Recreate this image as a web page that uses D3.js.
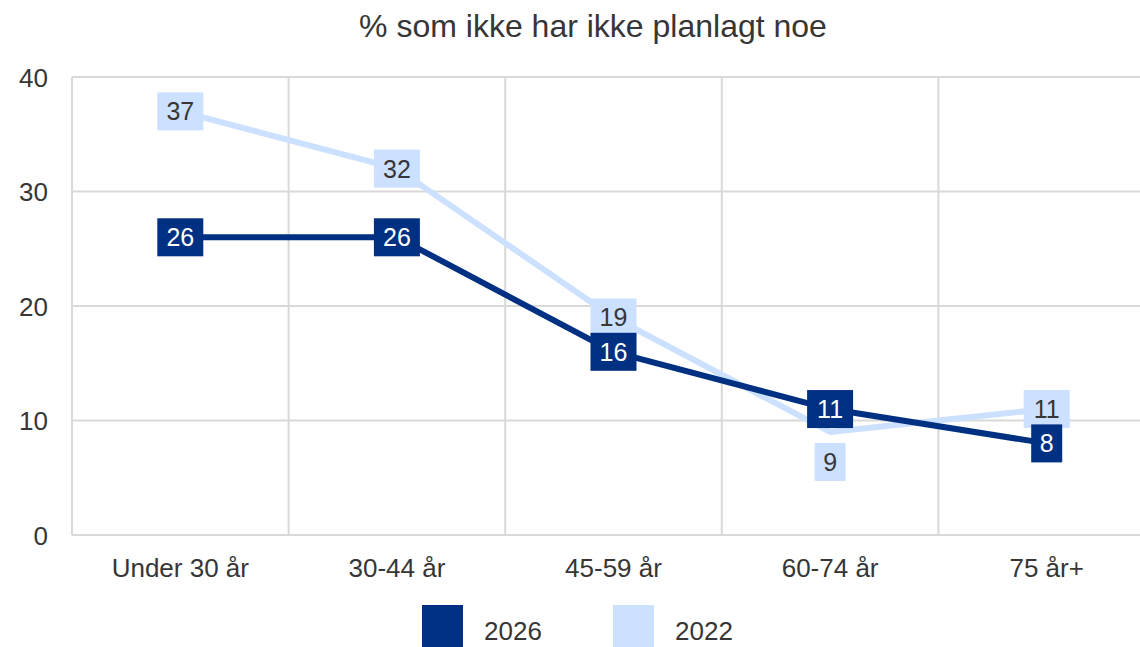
<!DOCTYPE html>
<html><head><meta charset="utf-8">
<script src="https://cdn.jsdelivr.net/npm/d3@7"></script>
<style>body{margin:0;background:#fff;font-family:Arial,"Liberation Sans",sans-serif;}</style>
</head><body>
<svg id="c" width="1140" height="647"></svg>
<script>
const title = "% som ikke har ikke planlagt noe";
const categories = ["Under 30 år","30-44 år","45-59 år","60-74 år","75 år+"];
const values2026 = [26,26,16,11,8];
const values2022 = [37,32,19,9,11];
const seriesNames = ["2026","2022"];
const yTicks = [0,10,20,30,40];
// label placement for 2022 series: "c" = centered on point, "b" = below
const labelPos2022 = ["c","c","c","b","c"];
const labelPos2026 = ["c","c","c","c","c"];

(function(){
const colors = {"2026":"#003082","2022":"#cce0ff"};
const textCol = "#363636";
const svg = d3.select("#c");
const pLeft = 72, pRight = 1155, pTop = 77, pBottom = 535;
const x = d3.scaleBand().domain(categories).range([pLeft,pRight]);
const y = d3.scaleLinear().domain([0,40]).range([pBottom,pTop]);

// title
svg.append("text").attr("x",593).attr("y",37).attr("text-anchor","middle")
  .attr("font-size",32).attr("fill",textCol).text(title);

// gridlines
const gx = svg.append("g");
yTicks.forEach(t=>{
  gx.append("line").attr("x1",pLeft).attr("x2",1140).attr("y1",y(t)).attr("y2",y(t))
    .attr("stroke","#d9d9d9").attr("stroke-width",2);
});
categories.forEach(c=>{
  gx.append("line").attr("x1",x(c)).attr("x2",x(c)).attr("y1",pTop).attr("y2",pBottom)
    .attr("stroke","#d9d9d9").attr("stroke-width",2);
});

// y axis labels
const yAxis = d3.axisLeft(y).tickValues(yTicks).tickSize(0).tickPadding(0);
const ya = svg.append("g").attr("transform",`translate(${pLeft-24},0)`).call(yAxis);
ya.select(".domain").remove();
ya.selectAll("text").attr("font-size",26).attr("fill",textCol).attr("font-family","Arial,'Liberation Sans',sans-serif").attr("dy","0.35em");

// x axis labels
const xAxis = d3.axisBottom(x).tickSize(0).tickPadding(0);
const xa = svg.append("g").attr("transform",`translate(0,${577})`).call(xAxis);
xa.select(".domain").remove();
xa.selectAll("text").attr("font-size",26).attr("fill",textCol).attr("dy","0").attr("font-family","Arial,'Liberation Sans',sans-serif");

const cx = c => x(c) + x.bandwidth()/2;
const line = d3.line().x((d,i)=>cx(categories[i])).y(d=>y(d));

function drawSeries(vals,name){
  svg.append("path").datum(vals).attr("d",line).attr("fill","none")
    .attr("stroke",colors[name]).attr("stroke-width",6).attr("stroke-linejoin","round");
}
function drawLabels(vals,name,pos){
  const g = svg.append("g");
  vals.forEach((v,i)=>{
    const s = String(v);
    const w = s.length===1 ? 31 : 46;
    const h = 38;
    const px = cx(categories[i]);
    let py = y(v);
    if(pos[i]==="b") py = py + 30;
    g.append("rect").attr("x",px-w/2).attr("y",py-h/2).attr("width",w).attr("height",h)
      .attr("fill",colors[name]);
    g.append("text").attr("x",px).attr("y",py).attr("dy","0.36em").attr("text-anchor","middle")
      .attr("font-size",25).attr("fill",name==="2026"?"#ffffff":textCol).text(s);
  });
}
drawSeries(values2022,"2022");
drawSeries(values2026,"2026");
drawLabels(values2022,"2022",labelPos2022);
drawLabels(values2026,"2026",labelPos2026);

// legend
const legX = [422,613];
seriesNames.forEach((n,i)=>{
  svg.append("rect").attr("x",legX[i]).attr("y",605).attr("width",41).attr("height",42).attr("fill",colors[n]);
  svg.append("text").attr("x",legX[i]+62).attr("y",640).attr("font-size",26).attr("fill",textCol).text(n);
});
})();
</script>
</body></html>
